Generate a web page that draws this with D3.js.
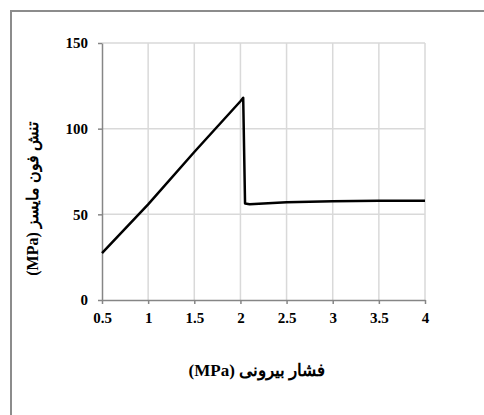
<!DOCTYPE html>
<html lang="fa">
<head>
    <meta charset="UTF-8">
    <title>Von Mises stress</title>
    <script src="https://d3js.org/d3.v7.min.js"></script>
    <style>
        body { margin: 0; background: #fff; }
        text { font-family: "Liberation Serif", "DejaVu Serif", serif; font-weight: bold; }
    </style>
</head>
<body>
<svg id="chart"></svg>
<script>
    // external pressure (MPa) and von Mises stress (MPa)
    pressure = [0.5, 1, 1.5, 2, 2.03, 2.05, 2.1, 2.5, 3, 3.5, 4];
    stress = [27.3, 55.8, 86.4, 116, 118, 56.3, 55.9, 57.1, 57.7, 57.9, 58];
    xTicks = [0.5, 1, 1.5, 2, 2.5, 3, 3.5, 4];
    yTicks = [0, 50, 100, 150];
    xTitle = "فشار بیرونی (MPa)";
    yTitle = "تنش فون مایسز (MPa)";

    W = 484; H = 415;
    margin = {top: 43, right: 59, bottom: 115, left: 102};
    width = W - margin.left - margin.right;
    height = H - margin.top - margin.bottom;

    root = d3.select("#chart").attr("width", W).attr("height", H);

    // outer frame, right and bottom edges run off the page
    root.append("rect")
        .attr("x", 11).attr("y", 11)
        .attr("width", W + 20).attr("height", H + 20)
        .attr("fill", "none")
        .attr("stroke", "#8c8c8c")
        .attr("stroke-width", 2);

    svg = root.append("g")
        .attr("transform", `translate(${margin.left},${margin.top})`);

    xScale = d3.scaleLinear().domain([0.5, 4]).range([0, width]);
    yScale = d3.scaleLinear().domain([0, 150]).range([height, 0]);

    // grid
    svg.append("g").selectAll("line")
        .data(xTicks.slice(1))
        .join("line")
        .attr("x1", d => xScale(d)).attr("x2", d => xScale(d))
        .attr("y1", 0).attr("y2", height)
        .attr("stroke", "#d9d9d9").attr("stroke-width", 1.5);
    svg.append("g").selectAll("line")
        .data(yTicks.slice(1))
        .join("line")
        .attr("x1", 0).attr("x2", width)
        .attr("y1", d => yScale(d)).attr("y2", d => yScale(d))
        .attr("stroke", "#d9d9d9").attr("stroke-width", 1.5);

    xAxis = d3.axisBottom(xScale).tickValues(xTicks)
        .tickFormat(d3.format("")).tickSizeInner(4).tickSizeOuter(0).tickPadding(8);
    yAxis = d3.axisLeft(yScale).tickValues(yTicks)
        .tickSizeInner(4).tickSizeOuter(0).tickPadding(10);

    gx = svg.append("g").attr("transform", `translate(0,${height})`).call(xAxis);
    gy = svg.append("g").call(yAxis);
    [gx, gy].forEach(g => {
        g.select(".domain").attr("stroke", "#868686").attr("stroke-width", 1.5);
        g.selectAll(".tick line").attr("stroke", "#868686").attr("stroke-width", 1.5);
        g.selectAll(".tick text")
            .attr("fill", "#000")
            .style("font-size", "15px")
            .style("font-family", "'Liberation Serif', serif")
            .style("font-weight", "bold");
    });

    line = d3.line()
        .x((d, i) => xScale(pressure[i]))
        .y(d => yScale(d));

    svg.append("path")
        .datum(stress)
        .attr("d", line)
        .attr("fill", "none")
        .attr("stroke", "#000")
        .attr("stroke-width", 2.5)
        .attr("stroke-linejoin", "round");

    // axis titles
    root.append("text")
        .attr("x", 257).attr("y", 376)
        .attr("text-anchor", "middle")
        .attr("direction", "rtl")
        .style("font-size", "17px")
        .text(xTitle);

    root.append("text")
        .attr("transform", "translate(38,199) rotate(-90)")
        .attr("text-anchor", "middle")
        .attr("direction", "rtl")
        .style("font-size", "16px")
        .text(yTitle);
</script>
</body>
</html>
